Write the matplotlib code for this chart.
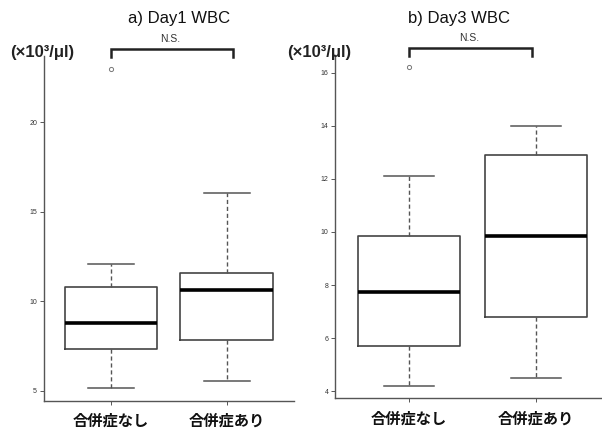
import matplotlib
matplotlib.use("Agg")
import matplotlib.pyplot as plt
import matplotlib.transforms as mtransforms

plt.rcParams['font.family'] = ['Liberation Sans', 'Noto Sans CJK JP', 'DejaVu Sans']

# データ (図から読み取った値, ×10^3/μl)
groups = ["合併症なし", "合併症あり"]

day1_whislo = [5.17, 5.54]
day1_q1 = [7.31, 7.83]
day1_med = [8.77, 10.66]
day1_q3 = [10.80, 11.56]
day1_whishi = [12.10, 16.05]
day1_fliers = [[23.0], []]
day1_yticks = [5, 10, 15, 20]

day3_whislo = [4.21, 4.48]
day3_q1 = [5.72, 6.79]
day3_med = [7.74, 9.85]
day3_q3 = [9.85, 12.89]
day3_whishi = [12.10, 14.00]
day3_fliers = [[16.2], []]
day3_yticks = [4, 6, 8, 10, 12, 14, 16]

titles = ["a) Day1 WBC", "b) Day3 WBC"]
sig_label = "N.S."
unit_label = "(×10³/μl)"
bracket_x = [(1.0, 2.05), (1.0, 1.97)]

W, H = 602, 434


def fx(px):
    return px / W


def fy(py):
    return 1 - py / H


def make_stats(whislo, q1, med, q3, whishi, fliers):
    stats = []
    for i in range(len(med)):
        stats.append(dict(whislo=whislo[i], q1=q1[i], med=med[i], q3=q3[i],
                          whishi=whishi[i], fliers=fliers[i]))
    return stats


def draw_panel(ax, stats, yticks, bx):
    ax.bxp(stats, positions=[1, 2], widths=0.8, capwidths=0.4,
           boxprops=dict(color='#444444', linewidth=1.2),
           medianprops=dict(color='black', linewidth=2.6),
           whiskerprops=dict(color='#555555', linewidth=1.0, linestyle=(0, (3, 2))),
           capprops=dict(color='#555555', linewidth=1.1),
           flierprops=dict(marker='o', markersize=3, markerfacecolor='none',
                           markeredgecolor='#777777', markeredgewidth=0.7))
    # R風 4% 余白
    lo = min(s['whislo'] for s in stats)
    hi = max([s['whishi'] for s in stats] + [f for s in stats for f in s['fliers']])
    pad = (hi - lo) * 0.04
    ax.set_ylim(lo - pad, hi + pad)
    ax.set_xlim(0.42, 2.58)

    for side in ['top', 'right']:
        ax.spines[side].set_visible(False)
    for side in ['left', 'bottom']:
        ax.spines[side].set_color('#555555')
        ax.spines[side].set_linewidth(1.0)

    ax.set_yticks(yticks)
    ax.set_yticklabels([str(t) for t in yticks])
    ax.tick_params(axis='y', labelsize=5, length=3, width=0.7, colors='#555555',
                   labelcolor='#333333', pad=2)
    ax.set_xticks([1, 2])
    ax.set_xticklabels(groups, fontsize=11, fontweight='bold',
                       family=['Noto Sans CJK JP', 'DejaVu Sans'])
    ax.tick_params(axis='x', length=3, width=0.7, colors='#555555',
                   labelcolor='#111111', pad=6)

    # 有意差ブラケット
    trans = mtransforms.blended_transform_factory(ax.transData, ax.transAxes)
    ax.plot([bx[0], bx[0], bx[1], bx[1]], [0.997, 1.02, 1.02, 0.997],
            color='#222222', linewidth=1.8, transform=trans, clip_on=False,
            solid_joinstyle='miter')


fig = plt.figure(figsize=(W / 100, H / 100), dpi=100)

ax1 = fig.add_axes([fx(44), fy(400.5), fx(293.8 - 44), 344.5 / H])
draw_panel(ax1, make_stats(day1_whislo, day1_q1, day1_med, day1_q3, day1_whishi, day1_fliers),
           day1_yticks, bracket_x[0])

ax2 = fig.add_axes([fx(335.3), fy(398.3), fx(609.7 - 335.3), 343.6 / H])
draw_panel(ax2, make_stats(day3_whislo, day3_q1, day3_med, day3_q3, day3_whishi, day3_fliers),
           day3_yticks, bracket_x[1])

# タイトル・注記
fig.text(fx(179), fy(18), titles[0], fontsize=12, ha='center', va='center', color='#111111')
fig.text(fx(459), fy(18), titles[1], fontsize=12, ha='center', va='center', color='#111111')
fig.text(fx(170), fy(39), sig_label, fontsize=7.5, ha='center', va='center', color='#333333')
fig.text(fx(469), fy(38), sig_label, fontsize=7.5, ha='center', va='center', color='#333333')
fig.text(fx(42), fy(52), unit_label, fontsize=12, fontweight='bold', ha='center', va='center',
         color='#222222')
fig.text(fx(319), fy(52), unit_label, fontsize=12, fontweight='bold', ha='center', va='center',
         color='#222222')

fig.savefig("out.png", dpi=100)
